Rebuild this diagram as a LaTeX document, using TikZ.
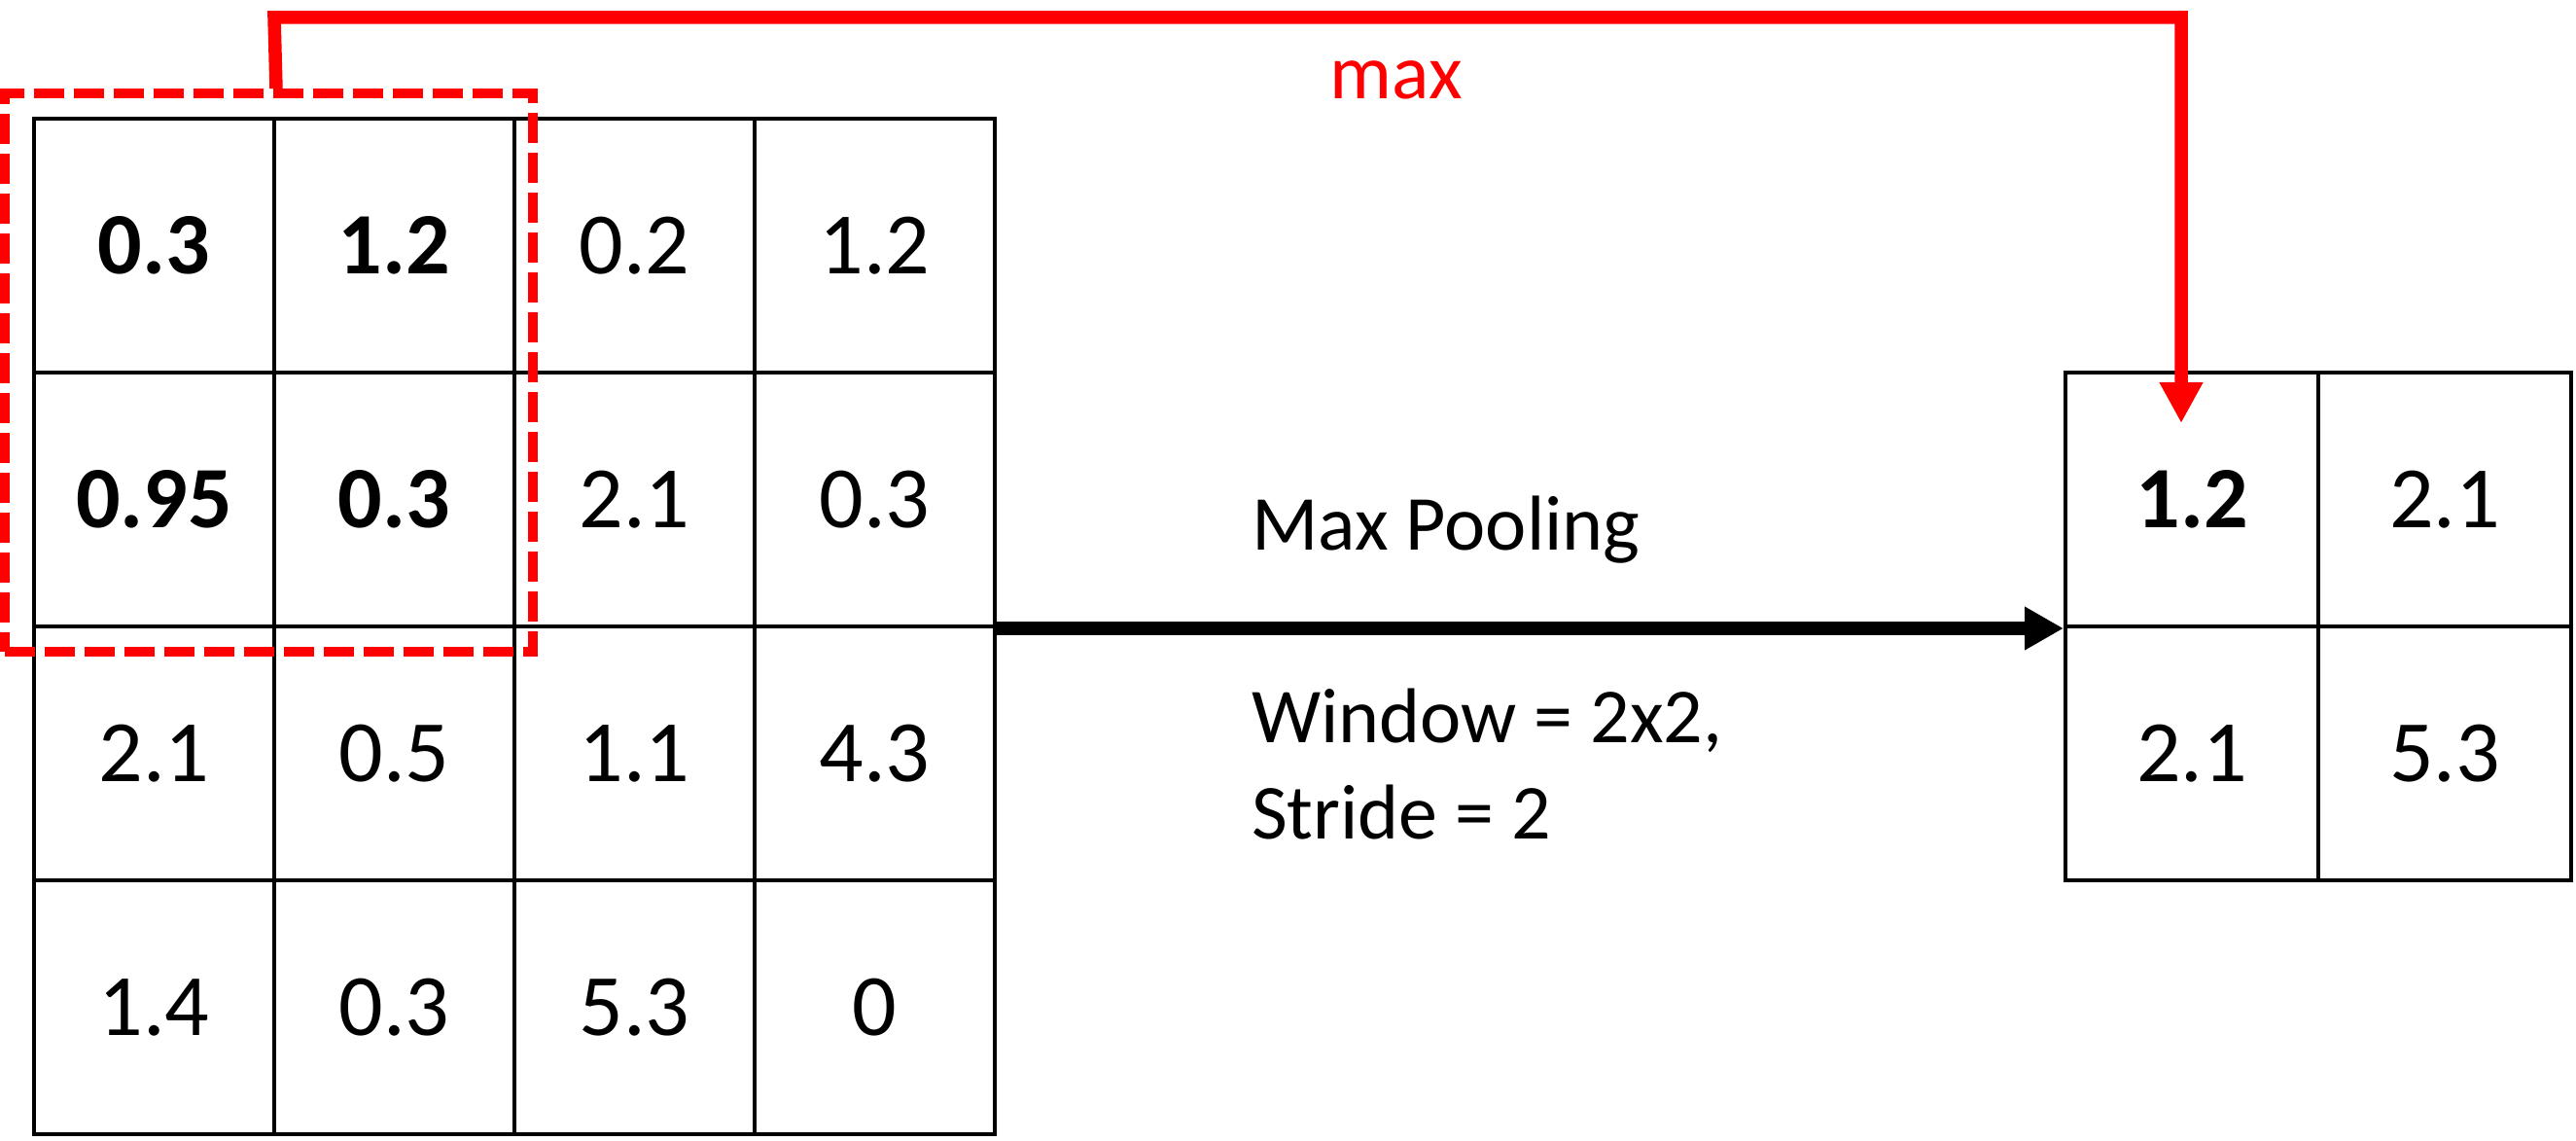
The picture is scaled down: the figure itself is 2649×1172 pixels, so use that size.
\documentclass[tikz,border=0pt]{standalone}
\usepackage{fontspec}
\setmainfont{Carlito}
\usetikzlibrary{arrows.meta}
\definecolor{pure red}{RGB}{255,0,0}
\tikzset{
  cellL/.style={draw=black, line width=4pt, minimum width=247pt, minimum height=261pt, inner sep=0pt, font=\fontsize{90}{100}\selectfont},
  cellR/.style={draw=black, line width=4pt, minimum width=260pt, minimum height=261pt, inner sep=0pt, font=\fontsize{90}{100}\selectfont},
  hi/.style={font=\fontsize{90}{100}\selectfont\bfseries},
  lbl/.style={inner sep=0pt, font=\fontsize{80}{96}\selectfont},
  window/.style={draw=pure red, line width=10pt, dash pattern=on 31pt off 10pt, minimum width=543pt, minimum height=574pt, inner sep=0pt},
  redline/.style={draw=pure red, line width=13.5pt, -{Triangle[length=42pt,width=42pt]}},
  blackarrow/.style={draw=black, line width=14pt, -{Triangle[length=40pt,width=42pt]}}
}
\begin{document}
\begin{tikzpicture}[x=1pt,y=-1pt]
\useasboundingbox (0,0) rectangle (2649,1172);
% left 4x4 grid
\node[cellL,hi] (c11) at (158.5,252.5) {0.3};
\node[cellL,hi] (c12) at (405.5,252.5) {1.2};
\node[cellL] (c13) at (652.5,252.5) {0.2};
\node[cellL] (c14) at (899.5,252.5) {1.2};
\node[cellL,hi] (c21) at (158.5,513.5) {0.95};
\node[cellL,hi] (c22) at (405.5,513.5) {0.3};
\node[cellL] (c23) at (652.5,513.5) {2.1};
\node[cellL] (c24) at (899.5,513.5) {0.3};
\node[cellL] (c31) at (158.5,774.5) {2.1};
\node[cellL] (c32) at (405.5,774.5) {0.5};
\node[cellL] (c33) at (652.5,774.5) {1.1};
\node[cellL] (c34) at (899.5,774.5) {4.3};
\node[cellL] (c41) at (158.5,1035.5) {1.4};
\node[cellL] (c42) at (405.5,1035.5) {0.3};
\node[cellL] (c43) at (652.5,1035.5) {5.3};
\node[cellL] (c44) at (899.5,1035.5) {0};
% right 2x2 grid
\node[cellR,hi] (r11) at (2254,513.5) {1.2};
\node[cellR] (r12) at (2514,513.5) {2.1};
\node[cellR] (r21) at (2254,774.5) {2.1};
\node[cellR] (r22) at (2514,774.5) {5.3};
% pooling window
\node[window] (win) at (276.5,383) {};
% red connector
\coordinate (up) at (282,18);
\coordinate (tip) at (2243,435);
\draw[redline] (c11.east |- win.north) -- (up) -| (tip);
\node[lbl, text=pure red, anchor=base] (maxlbl) at (1436,101) {max};
% black arrow
\draw[blackarrow] (c24.south east) -- (r11.south west);
\node[lbl, anchor=base west] (mp) at (1287,565) {Max Pooling};
\node[lbl, anchor=base west] (wd) at (1287,763) {Window = 2x2,};
\node[lbl, anchor=base west] (st) at (1287,862) {Stride = 2};
\end{tikzpicture}
\end{document}
